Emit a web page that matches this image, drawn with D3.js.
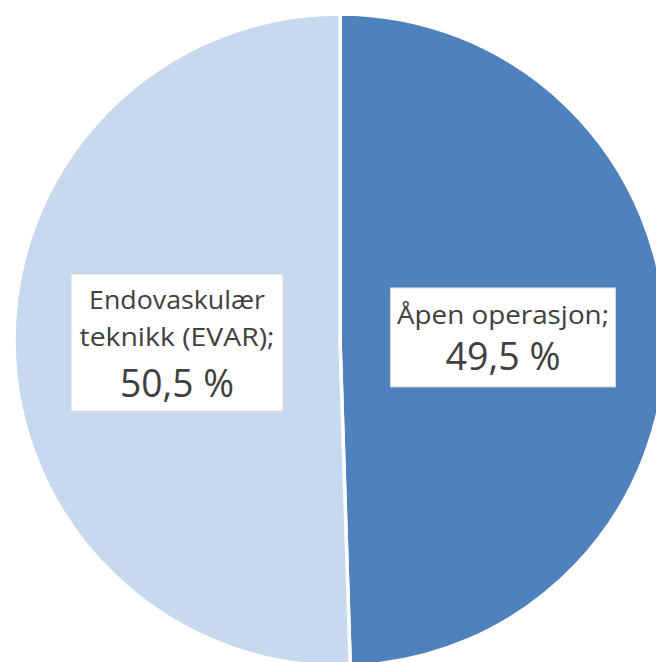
<!DOCTYPE html>
<html>
<head>
<meta charset="utf-8">
<script src="https://cdn.jsdelivr.net/npm/d3@7"></script>
<style>
  body { margin: 0; background: #fff; }
  svg { display: block; }
</style>
</head>
<body>
<svg id="chart"></svg>
<script>
// data
var categories = ["Åpen operasjon", "Endovaskulær teknikk (EVAR)"];
var values = [49.5, 50.5];
var labelLines = [["Åpen operasjon;"], ["Endovaskulær", "teknikk (EVAR);"]];
var valueLabels = ["49,5 %", "50,5 %"];
var colors = ["#4F81BD", "#C6D9EF"];

var width = 656, height = 662;
var cx = 340, cy = 340, radius = 326;

var svg = d3.select("#chart")
  .attr("width", width)
  .attr("height", height);

var g = svg.append("g")
  .attr("transform", "translate(" + cx + "," + cy + ")");

var pie = d3.pie().sort(null).value(function(d) { return d; });
var arc = d3.arc().innerRadius(0).outerRadius(radius);

var arcs = pie(values);

g.selectAll("path.slice")
  .data(arcs)
  .enter().append("path")
  .attr("class", "slice")
  .attr("d", arc)
  .attr("fill", function(d, i) { return colors[i]; })
  .attr("stroke", "#fff")
  .attr("stroke-width", 3.5)
  .attr("stroke-linejoin", "round");

// label boxes, centred on the slice centroid
var boxW = [225, 212];
var boxH = [99, 137];
var small = 25, big = 39;
// target text widths (Calibri-like fit)
var fitW = {"Åpen operasjon;": 212, "Endovaskulær": 176, "teknikk (EVAR);": 195, "49,5 %": 115, "50,5 %": 114};
var font = "'Open Sans', 'Noto Sans', sans-serif";

function addText(sel, t, y, size) {
  var txt = sel.append("text")
    .attr("x", 0)
    .attr("y", y)
    .attr("text-anchor", "middle")
    .style("font-family", font)
    .style("font-size", size + "px")
    .attr("fill", "#404040")
    .text(t);
  if (fitW[t]) txt.attr("textLength", fitW[t]).attr("lengthAdjust", "spacingAndGlyphs");
}

arcs.forEach(function(d, i) {
  var c = arc.centroid(d);
  var lab = g.append("g").attr("transform", "translate(" + c[0] + "," + c[1] + ")");
  var top = -boxH[i] / 2;
  lab.append("rect")
    .attr("x", -boxW[i] / 2)
    .attr("y", top)
    .attr("width", boxW[i])
    .attr("height", boxH[i])
    .attr("fill", "#fff")
    .attr("stroke", "#D9D9D9")
    .attr("stroke-width", 1);

  var lines = labelLines[i];
  var baseY = (i === 0) ? [36] : [34.5, 72];
  lines.forEach(function(t, k) {
    addText(lab, t, top + baseY[k], small);
  });
  addText(lab, valueLabels[i], top + (i === 0 ? 82 : 123), big);
});
</script>
</body>
</html>
